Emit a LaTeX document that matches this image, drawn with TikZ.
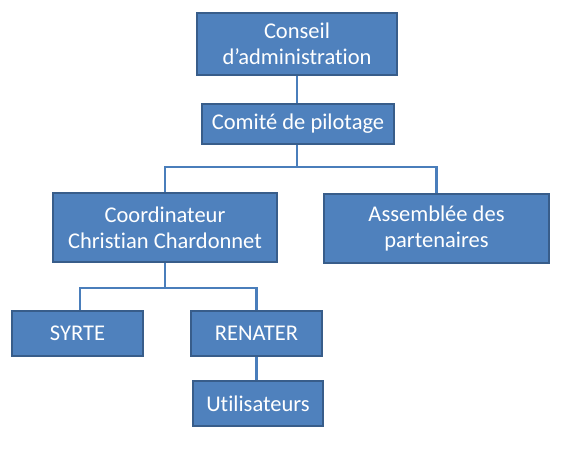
\documentclass[tikz,border=0pt]{standalone}
\usepackage{fontspec}
\setmainfont[Ligatures={NoCommon}]{Carlito}
\begin{document}
\begin{tikzpicture}[x=1pt,y=-1pt,
  orgbox/.style={draw=boxborder,line width=1.6pt,fill=boxfill,text=white,
    font=\fontsize{22.5}{26}\selectfont,align=center,inner sep=0pt,anchor=center},
  link/.style={draw=linkcol,line width=2.2pt}]
\definecolor{boxfill}{HTML}{4F81BD}
\definecolor{boxborder}{HTML}{385D8A}
\definecolor{linkcol}{HTML}{4A7EBB}
\useasboundingbox (0,0) rectangle (564,452);
\node[orgbox,minimum width=200pt,minimum height=62pt] (ca) at (297,44) {Conseil\\d’administration};
\node[orgbox,minimum width=192pt,minimum height=40pt] (cp) at (298,124) {Comité de pilotage};
\node[orgbox,minimum width=224pt,minimum height=69pt] (co) at (165,227.5) {Coordinateur\\Christian Chardonnet};
\node[orgbox,minimum width=225pt,minimum height=69pt] (as) at (436.5,228.5) {Assemblée des\\partenaires};
\node[orgbox,minimum width=131pt,minimum height=45pt] (sy) at (77.5,333.5) {SYRTE};
\node[orgbox,minimum width=131pt,minimum height=45pt] (re) at (256.5,333.5) {RENATER};
\node[orgbox,minimum width=130pt,minimum height=45pt] (ut) at (258,403.5) {Utilisateurs};
\draw[link] (ca.south -| 297,0) -- (cp.north -| 297,0);
\coordinate (j1) at (297,167);
\draw[link] (cp.south -| j1) -- (j1);
\draw[link] (co.north) |- (j1) -| (as.north);
\coordinate (j2) at (165,288);
\draw[link] (co.south) -- (j2);
\draw[link] (sy.north -| 80,0) |- (j2) -| (re.north);
\draw[link] (re.south) -- (ut.north -| re.south);
\end{tikzpicture}
\end{document}
